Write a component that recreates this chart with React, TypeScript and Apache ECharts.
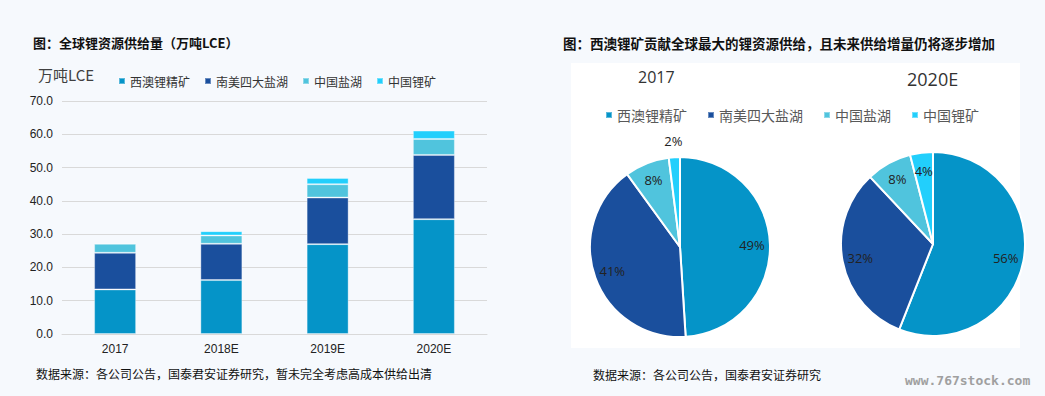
import React, { useEffect, useRef } from "react";
import * as echarts from "echarts";

const categories = ["2017", "2018E", "2019E", "2020E"];
const seriesNames = ["西澳锂精矿", "南美四大盐湖", "中国盐湖", "中国锂矿"];
const westAus = [13.4, 16.2, 27.0, 34.5];
const southAm = [11.0, 10.9, 14.0, 19.3];
const chinaBrine = [2.7, 2.5, 4.0, 4.8];
const chinaOre = [0.3, 1.3, 1.9, 2.5];
const yTicks = [0, 10, 20, 30, 40, 50, 60, 70];
const pie2017 = [49, 41, 8, 2];
const pie2020 = [56, 32, 8, 4];
const pieTitles = ["2017", "2020E"];

const colors = ["#0594c8", "#1a4f9d", "#50c4dd", "#22cffc"];
const FONT = "'Noto Sans CJK SC', 'Noto Sans', sans-serif";

export default function App() {
  const ref = useRef<HTMLDivElement>(null);
  useEffect(() => {
    document.body.style.margin = "0";
    const chart = echarts.init(ref.current!, null, { renderer: "svg" });
    const barData = [westAus, southAm, chinaBrine, chinaOre];
    const mkPie = (vals: number[]) => vals.map((v, i) => ({ name: seriesNames[i], value: v }));
    const pieBase = {
      type: "pie",
      startAngle: 90,
      clockwise: true,
      silent: true,
      avoidLabelOverlap: false,
    };
    const pieLabel = { show: true, position: "inside", formatter: "{c}%", color: "#222", fontSize: 13, fontFamily: "'Open Sans', sans-serif" };
    const option: any = {
      animation: false,
      backgroundColor: "#f6f9fd",
      color: colors,
      textStyle: { fontFamily: FONT },
      graphic: [
        { type: "rect", z: -10, shape: { x: 571, y: 63, width: 449, height: 285 }, style: { fill: "#ffffff" } },
        { type: "text", left: 33, top: 36, style: { text: "图：全球锂资源供给量（万吨LCE）", font: `bold 13px ${FONT}`, fill: "#111" } },
        { type: "text", left: 563, top: 36, style: { text: "图：西澳锂矿贡献全球最大的锂资源供给，且未来供给增量仍将逐步增加", font: `bold 13.5px ${FONT}`, fill: "#111" } },
        { type: "text", left: 38, top: 67, style: { text: "万吨LCE", font: `15px ${FONT}`, fill: "#404040" } },
        { type: "text", left: 638, top: 69, style: { text: pieTitles[0], font: `16px 'Open Sans', sans-serif`, fill: "#333" } },
        { type: "text", left: 907, top: 70, style: { text: pieTitles[1], font: `18px 'Open Sans', sans-serif`, fill: "#333" } },
        { type: "text", left: 36, top: 367, style: { text: "数据来源：各公司公告，国泰君安证券研究，暂未完全考虑高成本供给出清", font: `12px ${FONT}`, fill: "#111" } },
        { type: "text", left: 593, top: 368, style: { text: "数据来源：各公司公告，国泰君安证券研究", font: `12px ${FONT}`, fill: "#111" } },
        { type: "text", left: 905, top: 374, style: { text: "www.767stock.com", font: `bold 13px 'DejaVu Sans Mono', monospace`, fill: "#a0a0a0" } },
      ],
      legend: [
        {
          data: seriesNames,
          left: 113,
          top: 70,
          icon: "rect",
          itemWidth: 6,
          itemHeight: 6,
          itemGap: 14,
          textStyle: { fontSize: 12, color: "#333", fontFamily: FONT },
          selectedMode: false,
        },
        {
          data: seriesNames,
          left: 600,
          top: 103,
          icon: "rect",
          itemWidth: 6,
          itemHeight: 6,
          itemGap: 20,
          textStyle: { fontSize: 14, color: "#595959", fontFamily: FONT },
          selectedMode: false,
        },
      ],
      grid: { left: 62, right: 558, top: 101, bottom: 62 },
      xAxis: {
        type: "category",
        data: categories,
        axisLine: { lineStyle: { color: "#d9d9d9" } },
        axisTick: { show: false },
        axisLabel: { color: "#222", fontSize: 12, margin: 9, fontFamily: "'Liberation Sans', sans-serif" },
      },
      yAxis: {
        type: "value",
        min: yTicks[0],
        max: yTicks[yTicks.length - 1],
        interval: 10,
        axisLine: { show: false },
        axisTick: { show: false },
        splitLine: { lineStyle: { color: "#d9d9d9", width: 1 } },
        axisLabel: { color: "#222", fontSize: 12, margin: 9, fontFamily: "'Liberation Sans', sans-serif", formatter: (v: number) => v.toFixed(1) },
      },
      series: [
        ...barData.map((d, i) => ({
          type: "bar",
          name: seriesNames[i],
          stack: "total",
          data: d,
          barWidth: 42,
          itemStyle: { color: colors[i], borderColor: "rgba(255,255,255,0.35)", borderWidth: 1 },
        })),
        {
          ...pieBase,
          center: [680, 247],
          radius: [0, 90],
          data: mkPie(pie2017),
          itemStyle: { borderColor: "#fff", borderWidth: 2 },
          label: { show: false },
          labelLine: { show: false },
        },
        {
          ...pieBase,
          center: [680, 247],
          radius: [48, 90],
          data: mkPie(pie2017).map((d, i) => ({ ...d, label: { show: i < 3 } })),
          itemStyle: { color: "transparent", borderWidth: 0 },
          label: pieLabel,
          labelLine: { show: false },
          z: 5,
        },
        {
          ...pieBase,
          center: [680, 247],
          radius: [90, 116],
          data: mkPie(pie2017).map((d, i) => ({ ...d, label: { show: i === 3 } })),
          itemStyle: { color: "transparent", borderWidth: 0 },
          label: pieLabel,
          labelLine: { show: false },
          z: 5,
        },
        {
          ...pieBase,
          center: [933, 244],
          radius: [0, 92],
          data: mkPie(pie2020),
          itemStyle: { borderColor: "#fff", borderWidth: 2 },
          label: { show: false },
          labelLine: { show: false },
        },
        {
          ...pieBase,
          center: [933, 244],
          radius: [50, 92],
          data: mkPie(pie2020),
          itemStyle: { color: "transparent", borderWidth: 0 },
          label: pieLabel,
          labelLine: { show: false },
          z: 5,
        },
      ],
    };
    chart.setOption(option);
    return () => chart.dispose();
  }, []);
  return <div ref={ref} style={{ width: 1045, height: 396 }} />;
}
